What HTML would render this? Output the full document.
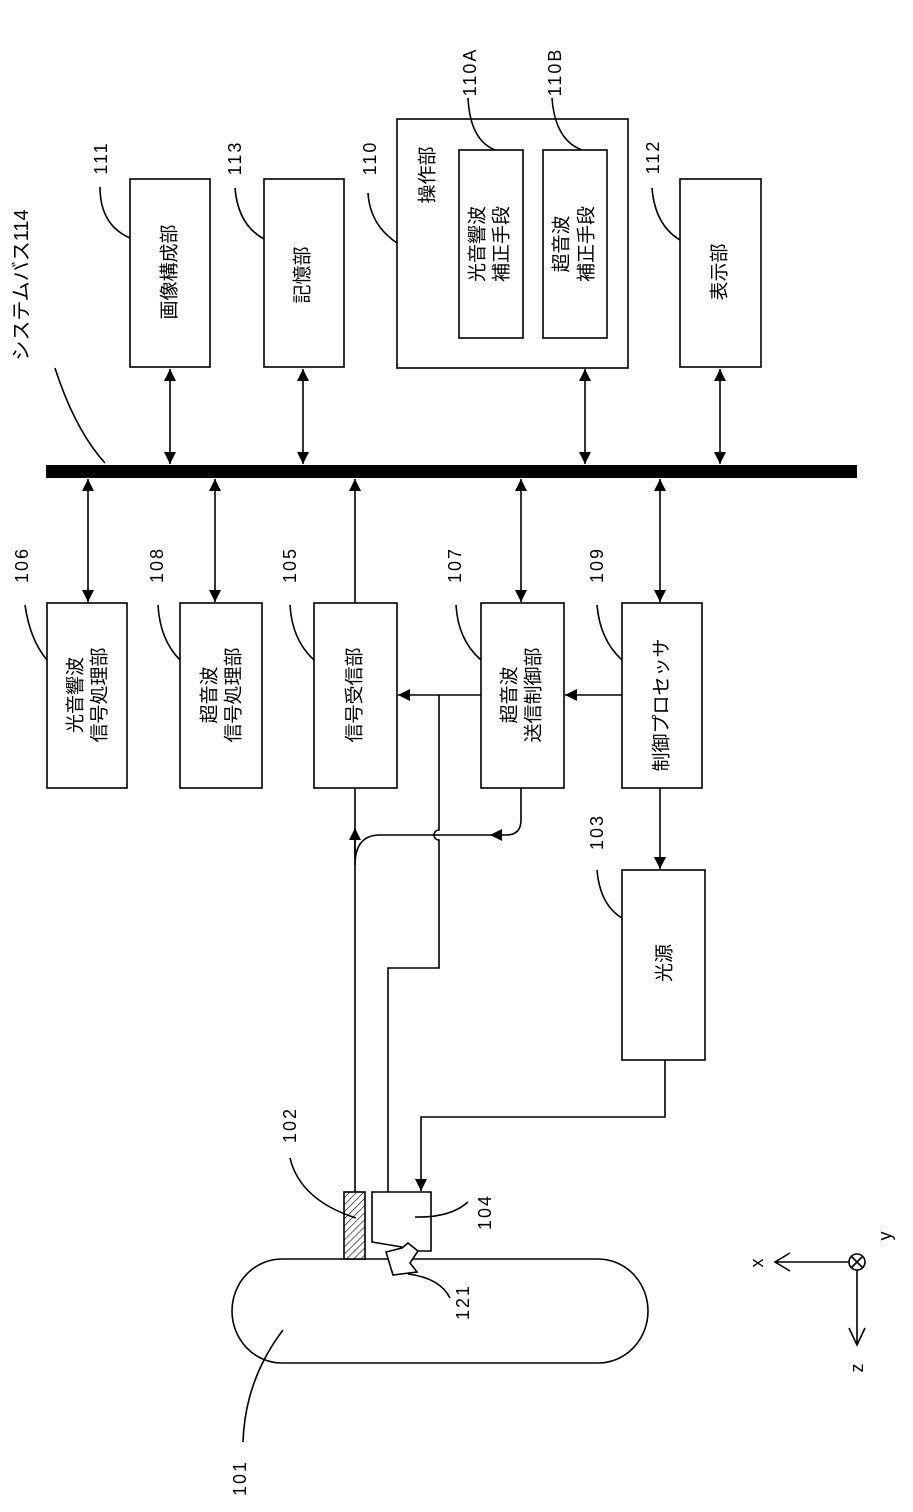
<!DOCTYPE html>
<html><head><meta charset="utf-8">
<style>html,body{margin:0;padding:0;background:#fff}svg{display:block}
text{font-family:"Liberation Sans","Noto Sans CJK JP",sans-serif;fill:#000}</style></head>
<body>
<svg width="913" height="1512" viewBox="0 0 913 1512" xmlns="http://www.w3.org/2000/svg">
<defs>
<marker id="a" viewBox="0 0 10 10" refX="10" refY="5" markerWidth="12" markerHeight="12" markerUnits="userSpaceOnUse" orient="auto-start-reverse"><path d="M0,0L10,5L0,10z" fill="#000"/></marker>
<pattern id="h" width="5" height="5" patternUnits="userSpaceOnUse" patternTransform="rotate(45)"><rect width="5" height="5" fill="#fff"/><line x1="0" y1="0" x2="0" y2="5" stroke="#000" stroke-width="1.2"/></pattern>
</defs>
<g fill="none" stroke="#000" stroke-width="1.6">
<rect x="46" y="465" width="811" height="13" fill="#000" stroke="none"/>
<rect x="130" y="179" width="80" height="188"/>
<rect x="264" y="179" width="80" height="188"/>
<rect x="397" y="119" width="231" height="249"/>
<rect x="459" y="150" width="64" height="188"/>
<rect x="543" y="150" width="64" height="188"/>
<rect x="680" y="179" width="81" height="188"/>
<line x1="170" y1="369" x2="170" y2="464" marker-start="url(#a)" marker-end="url(#a)"/>
<line x1="303" y1="369" x2="303" y2="464" marker-start="url(#a)" marker-end="url(#a)"/>
<line x1="585" y1="369" x2="585" y2="464" marker-start="url(#a)" marker-end="url(#a)"/>
<line x1="720" y1="369" x2="720" y2="464" marker-start="url(#a)" marker-end="url(#a)"/>
<rect x="47" y="603" width="80" height="185"/>
<rect x="180" y="603" width="82" height="185"/>
<rect x="314" y="603" width="83" height="185"/>
<rect x="481" y="603" width="83" height="185"/>
<rect x="622" y="603" width="80" height="185"/>
<rect x="622" y="870" width="83" height="190"/>
<line x1="88" y1="479" x2="88" y2="602" marker-start="url(#a)" marker-end="url(#a)"/>
<line x1="215" y1="479" x2="215" y2="602" marker-start="url(#a)" marker-end="url(#a)"/>
<line x1="355" y1="603" x2="355" y2="479" marker-end="url(#a)"/>
<line x1="521" y1="479" x2="521" y2="602" marker-start="url(#a)" marker-end="url(#a)"/>
<line x1="660" y1="479" x2="660" y2="602" marker-start="url(#a)" marker-end="url(#a)"/>
<line x1="622" y1="695" x2="565" y2="695" marker-end="url(#a)"/>
<line x1="481" y1="695" x2="398" y2="695" marker-end="url(#a)"/>
<line x1="660" y1="788" x2="660" y2="869" marker-end="url(#a)"/>
<path d="M439,695 V830 a5,5 0 0 0 0,10 V968 H388 V1192"/>
<path d="M521,788 V820 Q521,835 506,835 H490" marker-end="url(#a)"/>
<path d="M490,835 H380 Q355,835 355,865"/>
<line x1="355" y1="1192" x2="355" y2="789"/>
<line x1="355" y1="860" x2="355" y2="828" marker-end="url(#a)"/>
<path d="M665,1060 V1117 H421 V1191" marker-end="url(#a)"/>
<rect x="232" y="1259" width="416" height="104" rx="50" ry="52"/>
<rect x="344" y="1192" width="21" height="67" fill="url(#h)"/>
<path d="M418,1251 H431 V1192 H372 V1242 L402,1247"/>
<path d="M386,1252 L402,1248 L408,1243 L418,1251 L410,1263 L417,1272 L393,1275 Z" fill="#fff"/>
<path d="M55,368 Q75,430 105,463"/>
<path d="M100,187 Q100,225 130,238"/>
<path d="M235,188 Q238,225 264,239"/>
<path d="M368,193 Q370,225 397,243"/>
<path d="M468,98 Q470,140 495,150"/>
<path d="M552,98 Q555,140 582,150"/>
<path d="M652,188 Q655,225 680,240"/>
<path d="M25,605 Q30,640 47,660"/>
<path d="M158,605 Q160,640 180,660"/>
<path d="M290,605 Q292,640 314,660"/>
<path d="M456,605 Q458,640 481,660"/>
<path d="M597,605 Q600,640 622,660"/>
<path d="M597,870 Q600,905 622,918"/>
<path d="M290,1158 Q300,1200 356,1218"/>
<path d="M468,1202 Q450,1218 415,1217"/>
<path d="M450,1298 Q440,1278 408,1274"/>
<path d="M243,1442 Q245,1380 283,1330"/>
<circle cx="857" cy="1262" r="8"/>
<path d="M851,1256 L863,1268 M863,1256 L851,1268"/>
<path d="M849,1262 H775 M790,1253 L775,1262 L790,1271"/>
<path d="M857,1270 V1345 M849,1328 L857,1345 L865,1328"/>
</g>
<g font-size="19" text-anchor="middle" dominant-baseline="central">
<text transform="translate(22,285) rotate(-90)" font-size="20">システムバス114</text>
<text transform="translate(170,272) rotate(-90)">画像構成部</text>
<text transform="translate(303,275) rotate(-90)">記憶部</text>
<text transform="translate(428,175) rotate(-90)">操作部</text>
<text transform="translate(478,244) rotate(-90)">光音響波</text>
<text transform="translate(502,244) rotate(-90)">補正手段</text>
<text transform="translate(562,244) rotate(-90)">超音波</text>
<text transform="translate(587,244) rotate(-90)">補正手段</text>
<text transform="translate(720,272) rotate(-90)">表示部</text>
<text transform="translate(76,695) rotate(-90)">光音響波</text>
<text transform="translate(100,695) rotate(-90)">信号処理部</text>
<text transform="translate(210,695) rotate(-90)">超音波</text>
<text transform="translate(234,695) rotate(-90)">信号処理部</text>
<text transform="translate(355,695) rotate(-90)">信号受信部</text>
<text transform="translate(510,695) rotate(-90)">超音波</text>
<text transform="translate(534,695) rotate(-90)">送信制御部</text>
<text transform="translate(662,705) rotate(-90)">制御プロセッサ</text>
<text transform="translate(665,963) rotate(-90)">光源</text>
</g>
<g font-size="18" text-anchor="middle" dominant-baseline="central" letter-spacing="2">
<text transform="translate(101,158) rotate(-90)">111</text>
<text transform="translate(235,158) rotate(-90)">113</text>
<text transform="translate(370,158) rotate(-90)">110</text>
<text transform="translate(470,72) rotate(-90)">110A</text>
<text transform="translate(555,72) rotate(-90)">110B</text>
<text transform="translate(653,157) rotate(-90)">112</text>
<text transform="translate(22,565) rotate(-90)">106</text>
<text transform="translate(157,565) rotate(-90)">108</text>
<text transform="translate(290,565) rotate(-90)">105</text>
<text transform="translate(455,565) rotate(-90)">107</text>
<text transform="translate(597,565) rotate(-90)">109</text>
<text transform="translate(597,832) rotate(-90)">103</text>
<text transform="translate(290,1125) rotate(-90)">102</text>
<text transform="translate(485,1212) rotate(-90)">104</text>
<text transform="translate(463,1302) rotate(-90)">121</text>
<text transform="translate(240,1478) rotate(-90)">101</text>
<text transform="translate(757,1262) rotate(-90)">x</text>
<text transform="translate(885,1235) rotate(-90)">y</text>
<text transform="translate(857,1367) rotate(-90)">z</text>
</g>
</svg>
</body></html>
